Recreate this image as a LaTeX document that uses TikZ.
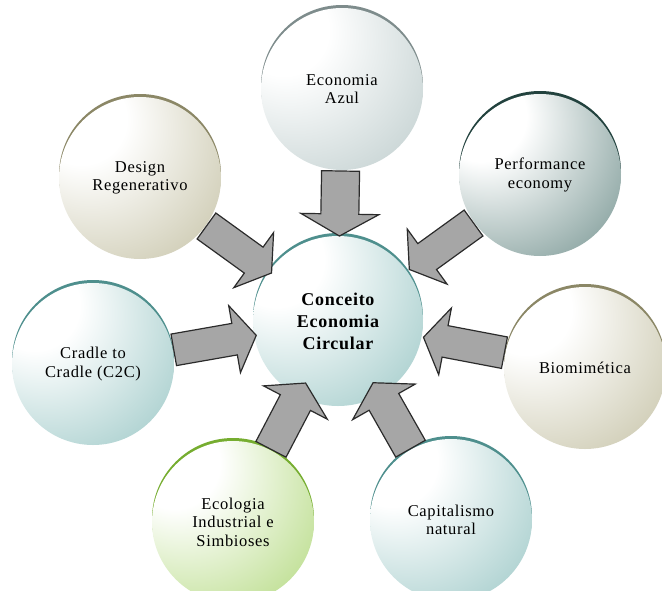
\documentclass[tikz,border=0pt]{standalone}
\usepackage{fontspec}
\setmainfont{Liberation Serif}[LetterSpace=4]
\usetikzlibrary{calc}
\definecolor{azulc}{HTML}{9DB3B3}
\definecolor{azula}{HTML}{7E8C8C}
\definecolor{perfc}{HTML}{2F5D58}
\definecolor{perfa}{HTML}{22423E}
\definecolor{olivc}{HTML}{A9A47A}
\definecolor{oliva}{HTML}{8B8766}
\definecolor{tealc}{HTML}{6AACAA}
\definecolor{teala}{HTML}{4E8F8D}
\definecolor{greenc}{HTML}{8DC63F}
\definecolor{greena}{HTML}{76AD30}
\definecolor{arrowfill}{HTML}{A6A6A6}
\definecolor{arrowline}{HTML}{2B2B2B}
\newcommand\glow[2]{\pgfdeclareradialshading{#1}{\pgfpoint{-22bp}{22bp}}{color(0bp)=(white); color(14bp)=(white); color(40bp)=(#2!50); color(64bp)=(#2!90); color(80bp)=(#2)}}
\glow{glowazul}{azulc}
\glow{glowperf}{perfc}
\glow{glowoliv}{olivc}
\glow{glowteal}{tealc}
\glow{glowgreen}{greenc}
\tikzset{
  bubble/.style n args={2}{circle, minimum size=162pt, inner sep=0pt, align=center,
    shade, shading=#1, preaction={fill=#2, transform canvas={yshift=3pt}},
    font=\fontsize{16.5}{18.5}\selectfont},
  hubbubble/.style={bubble={glowteal}{teala}, minimum size=170pt,
    font=\fontsize{18}{22}\selectfont\bfseries},
  blockarrow/.style={fill=arrowfill, draw=arrowline, line width=1.2pt, line join=miter},
}
% block arrow from a satellite towards the hub
\newcommand\feed[4]{%
  \coordinate (#1-tail) at ($(#1)!82pt!(hub)$);
  \coordinate (#1-tip) at ($(hub)!#2pt!(#1)$);
  \coordinate (#1-neck) at ($(#1-tip)!22pt!(#1-tail)$);
  \draw[blockarrow] ($(#1-tail)!#3pt!90:(#1-tip)$) -- ($(#1-neck)!#3pt!90:(#1-tip)$)
    -- ($(#1-neck)!#4pt!90:(#1-tip)$) -- (#1-tip) -- ($(#1-neck)!#4pt!-90:(#1-tip)$)
    -- ($(#1-neck)!#3pt!-90:(#1-tip)$) -- ($(#1-tail)!#3pt!-90:(#1-tip)$) -- cycle;
}
\begin{document}
\begin{tikzpicture}[x=1pt,y=-1pt]
  \useasboundingbox (0,0) rectangle (662,590);

  \node[hubbubble] (hub) at (338,321) {Conceito\\Economia\\Circular};
  \node[bubble={glowazul}{azula}] (azul) at (342,89) {Economia\\Azul};
  \node[bubble={glowperf}{perfa}] (perf) at (540,175) {Performance\\economy};
  \node[bubble={glowoliv}{oliva}] (design) at (140,178) {Design\\Regenerativo};
  \node[bubble={glowteal}{teala}] (cradle) at (93,364) {Cradle to\\Cradle (C2C)};
  \node[bubble={glowoliv}{oliva}] (biom) at (585,368) {Biomimética};
  \node[bubble={glowgreen}{greena}] (eco) at (233,522) {Ecologia\\Industrial e\\Simbioses};
  \node[bubble={glowteal}{teala}] (cap) at (451,520) {Capitalismo\\natural};

  \feed{azul}{85}{19}{39}
  \feed{perf}{88}{16}{34}
  \feed{design}{82}{16}{34}
  \feed{cradle}{83}{16}{34}
  \feed{biom}{87}{16}{34}
  \feed{eco}{70}{17}{36}
  \feed{cap}{71}{17}{36}
\end{tikzpicture}
\end{document}
